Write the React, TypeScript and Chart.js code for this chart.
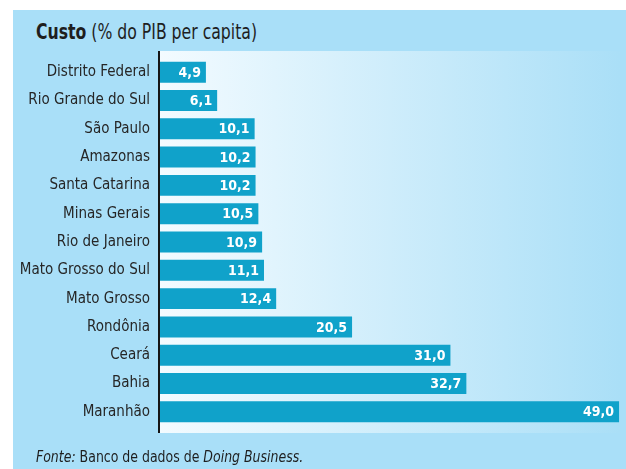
import React, { useEffect, useRef } from 'react';
import { Chart, registerables } from 'chart.js';

Chart.register(...registerables);

const categories = [
  'Distrito Federal',
  'Rio Grande do Sul',
  'São Paulo',
  'Amazonas',
  'Santa Catarina',
  'Minas Gerais',
  'Rio de Janeiro',
  'Mato Grosso do Sul',
  'Mato Grosso',
  'Rondônia',
  'Ceará',
  'Bahia',
  'Maranhão',
];
const values = [4.9, 6.1, 10.1, 10.2, 10.2, 10.5, 10.9, 11.1, 12.4, 20.5, 31.0, 32.7, 49.0];

const FONT = "'DejaVu Sans Condensed', 'DejaVu Sans', sans-serif";
const PANEL = '#a9dff8';
const BAR = '#10a2ca';

export default function App() {
  const ref = useRef<HTMLCanvasElement | null>(null);

  useEffect(() => {
    if (!ref.current) return;
    const bgPlugin = {
      id: 'plotBg',
      beforeDatasetsDraw(chart: any) {
        const { ctx, chartArea } = chart;
        const top = chartArea.top - 7;
        const bottom = chartArea.bottom + 7;
        const g = ctx.createLinearGradient(chartArea.left, 0, chartArea.right, 0);
        g.addColorStop(0, '#f3fbff');
        g.addColorStop(1, '#aadff7');
        ctx.save();
        ctx.fillStyle = g;
        ctx.fillRect(chartArea.left, top, chartArea.right - chartArea.left, bottom - top);
        ctx.restore();
      },
      afterDatasetsDraw(chart: any) {
        const { ctx, chartArea } = chart;
        const top = chartArea.top - 7;
        const bottom = chartArea.bottom + 7;
        ctx.save();
        ctx.fillStyle = '#151515';
        ctx.fillRect(chartArea.left - 2, top, 2, bottom - top);
        const meta = chart.getDatasetMeta(0);
        ctx.font = `bold 14px ${FONT}`;
        ctx.fillStyle = '#ffffff';
        ctx.textAlign = 'right';
        ctx.textBaseline = 'middle';
        meta.data.forEach((el: any, i: number) => {
          const txt = values[i].toFixed(1).replace('.', ',');
          ctx.fillText(txt, el.x - 5, el.y + 1);
        });
        ctx.restore();
      },
    };

    const chart = new Chart(ref.current, {
      type: 'bar',
      data: {
        labels: categories,
        datasets: [
          {
            data: values,
            backgroundColor: BAR,
            borderWidth: 0,
            barPercentage: 0.74,
            categoryPercentage: 1,
          },
        ],
      },
      options: {
        indexAxis: 'y',
        animation: false,
        responsive: true,
        maintainAspectRatio: false,
        layout: { padding: { left: 0, right: 6, top: 58, bottom: 43 } },
        plugins: { legend: { display: false }, tooltip: { enabled: false } },
        scales: {
          x: { display: false, min: 0, max: 49.1 },
          y: {
            grid: { display: false, drawTicks: false },
            border: { display: false },
            ticks: {
              padding: 10,
              color: '#262626',
              font: { family: FONT, size: 15 },
            },
            afterFit(scale: any) {
              scale.width = 160;
            },
          },
        },
      },
      plugins: [bgPlugin],
    });
    return () => chart.destroy();
  }, []);

  return (
    <div style={{ position: 'fixed', left: 0, top: 0, width: 626, height: 469, background: '#ffffff', overflow: 'hidden' }}>
      <div style={{ position: 'absolute', left: 13, top: 10, width: 613, height: 459, background: PANEL }} />
      <div
        style={{
          position: 'absolute',
          left: 36,
          top: 22,
          fontFamily: FONT,
          fontSize: 21,
          lineHeight: '21px',
          color: '#1e1e1e',
          whiteSpace: 'nowrap',
          transform: 'scaleX(0.83)',
          transformOrigin: 'left center',
        }}
      >
        <b>Custo</b> (% do PIB per capita)
      </div>
      <div style={{ position: 'absolute', left: 0, top: 0, width: 626, height: 469 }}>
        <canvas ref={ref} />
      </div>
      <div
        style={{
          position: 'absolute',
          left: 36,
          top: 448,
          fontFamily: FONT,
          fontSize: 16,
          lineHeight: '17px',
          color: '#1e1e1e',
          whiteSpace: 'nowrap',
          transform: 'scaleX(0.87)',
          transformOrigin: 'left center',
        }}
      >
        <i>Fonte:</i> Banco de dados de <i>Doing Business.</i>
      </div>
    </div>
  );
}
